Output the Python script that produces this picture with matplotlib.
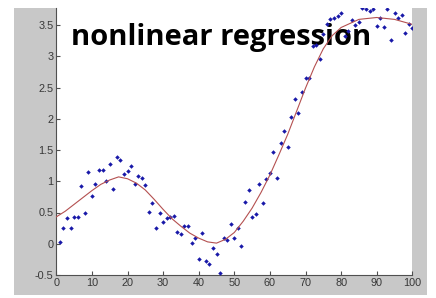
import matplotlib
matplotlib.use("Agg")
import matplotlib.pyplot as plt
from matplotlib.patches import Rectangle

# scattered samples (x = 1..100)
x_pts = list(range(1, 101))
y_pts = [0.03, 0.25, 0.42, 0.25, 0.43, 0.43, 0.93, 0.50, 1.15, 0.77,
         0.95, 1.18, 1.18, 1.00, 1.28, 0.87, 1.39, 1.34, 1.11, 1.16,
         1.24, 0.95, 1.08, 1.05, 0.94, 0.51, 0.66, 0.26, 0.50, 0.35,
         0.41, 0.43, 0.45, 0.19, 0.16, 0.29, 0.29, 0.01, 0.10, -0.24,
         0.18, -0.28, -0.33, -0.06, -0.17, -0.47, 0.10, 0.06, 0.32, 0.10,
         0.26, -0.03, 0.67, 0.86, 0.43, 0.48, 0.96, 0.66, 1.04, 1.14,
         1.47, 1.06, 1.62, 1.81, 1.55, 2.03, 2.32, 2.09, 2.43, 2.65,
         2.65, 3.16, 3.18, 2.95, 3.35, 3.51, 3.59, 3.62, 3.64, 3.70,
         3.33, 3.40, 3.58, 3.50, 3.55, 3.78, 3.76, 3.72, 3.75, 3.48,
         3.62, 3.47, 3.76, 3.26, 3.70, 3.62, 3.66, 3.37, 3.51, 3.46]

# fitted curve
x_fit = [0, 2.5, 5, 7.5, 10, 12.5, 15, 17.5, 20, 22.5, 25, 27.5, 30, 32.5, 35, 37.5, 40,
         42.5, 45, 47.5, 50, 52.5, 55, 57.5, 60, 62.5, 65, 67.5, 70, 72.5, 75, 77.5, 80,
         85, 90, 95, 100]
y_fit = [0.43, 0.52, 0.63, 0.74, 0.85, 0.95, 1.02, 1.07, 1.04, 0.97, 0.86, 0.71, 0.55,
         0.40, 0.28, 0.17, 0.09, 0.03, 0.01, 0.07, 0.18, 0.36, 0.57, 0.82, 1.10, 1.42,
         1.75, 2.12, 2.49, 2.83, 3.12, 3.33, 3.46, 3.59, 3.62, 3.59, 3.51]

x_ticks = [0, 10, 20, 30, 40, 50, 60, 70, 80, 90, 100]
y_ticks = [-0.5, 0, 0.5, 1, 1.5, 2, 2.5, 3, 3.5]
y_labels = ["-0.5", "0", "0.5", "1", "1.5", "2", "2.5", "3", "3.5"]

fig = plt.figure(figsize=(4.36, 2.98), dpi=100)
fig.patch.set_facecolor("white")
# gray matlab window background
fig.patches.append(Rectangle((14/436, 3/298), 413/436, 287/298, transform=fig.transFigure,
                             facecolor="#c8c8c8", edgecolor="none", zorder=-5))

ax = fig.add_axes([56.3/436, 23/298, 356/436, 267/298])
ax.set_zorder(1)
ax.set_facecolor("white")
ax.plot(x_pts, y_pts, "D", color="#1818a8", ms=2.3, mew=0, zorder=3)
ax.plot(x_fit, y_fit, "-", color="#b45050", lw=0.8, zorder=4)

ax.set_xlim(0, 100)
ax.set_ylim(-0.5, -0.5 + 267/62.5)
ax.set_xticks(x_ticks)
ax.set_yticks(y_ticks)
ax.set_yticklabels(y_labels)
ax.tick_params(direction="in", length=3, width=0.8, colors="#505050",
               labelcolor="#383838", labelsize=7.8, pad=2)
for t in ax.get_xticklabels() + ax.get_yticklabels():
    t.set_family("Liberation Sans")
ax.spines["top"].set_visible(False)
ax.spines["right"].set_visible(False)
ax.spines["left"].set_color("#505050")
ax.spines["bottom"].set_color("#505050")

ax.text(71/436, 1 - 45/298, "nonlinear regression", transform=fig.transFigure,
        fontsize=21, fontweight="bold", family="Open Sans", color="black",
        va="baseline", ha="left", zorder=2)

fig.savefig("out.png", dpi=100)
